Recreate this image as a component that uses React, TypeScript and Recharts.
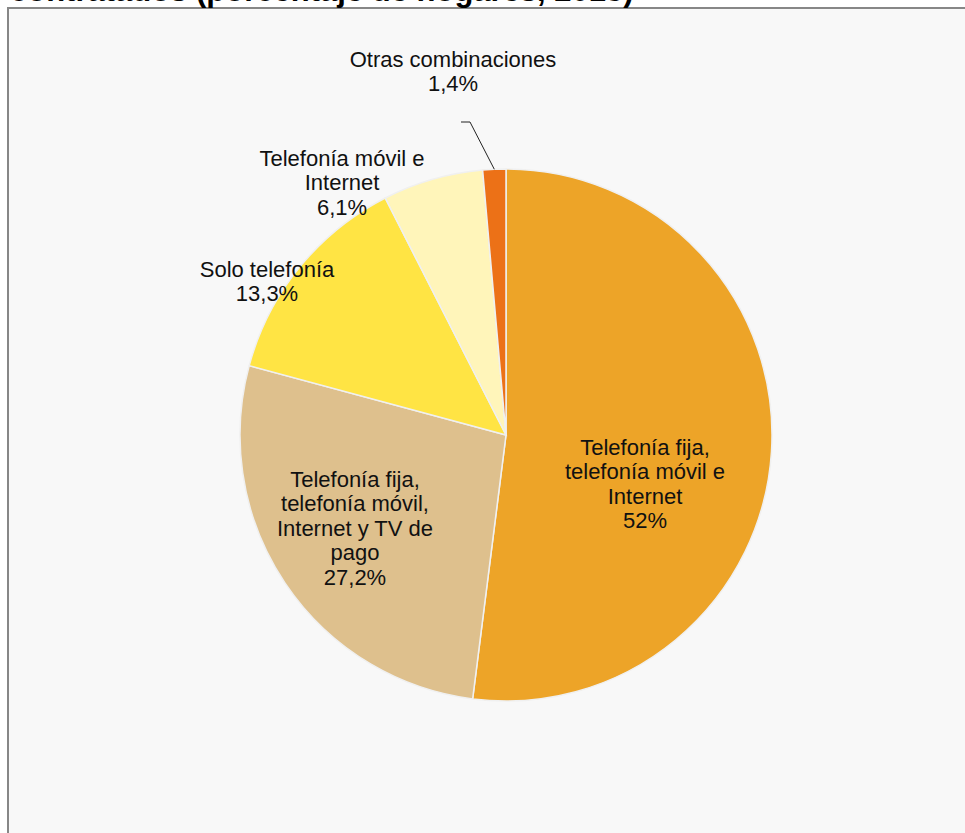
import { PieChart, Pie, Cell } from 'recharts'

const CATEGORY_LINES = [
  ['Telefonía fija,', 'telefonía móvil e', 'Internet'],
  ['Telefonía fija,', 'telefonía móvil,', 'Internet y TV de', 'pago'],
  ['Solo telefonía'],
  ['Telefonía móvil e', 'Internet'],
  ['Otras combinaciones'],
]
const SHARES = [52, 27.2, 13.3, 6.1, 1.4]
const SHARE_TEXT = ['52%', '27,2%', '13,3%', '6,1%', '1,4%']

const COLORS = ['#EDA428', '#DEC08D', '#FFE444', '#FFF5BA', '#EC7117']

// label block placement relative to the pie centre: dx = text centre, dy = first baseline
const LABEL_OFFSETS = [
  { dx: 139, dy: 20 },
  { dx: -151, dy: 52 },
  { dx: -239, dy: -158 },
  { dx: -164, dy: -269 },
  { dx: -53, dy: -368 },
]
const LEADER_INDEX = 4
const LEADER_KNEE = { dx: -36, dy: -313 }

const FONT = '"Liberation Sans", Arial, sans-serif'
const LINE_H = 24.4
const RAD = Math.PI / 180

const data = CATEGORY_LINES.map((lines, i) => ({ name: lines.join(' '), value: SHARES[i] }))

const renderLabel = (props: any) => {
  const { cx, cy, midAngle, outerRadius, index } = props
  const off = LABEL_OFFSETS[index]
  const x = cx + off.dx
  const y0 = cy + off.dy
  const lines = [...CATEGORY_LINES[index], SHARE_TEXT[index]]
  let leader = null
  if (index === LEADER_INDEX) {
    const ex = cx + outerRadius * Math.cos(-midAngle * RAD)
    const ey = cy + outerRadius * Math.sin(-midAngle * RAD)
    const kx = cx + LEADER_KNEE.dx
    const ky = cy + LEADER_KNEE.dy
    leader = (
      <polyline
        points={`${ex},${ey} ${kx},${ky} ${kx - 9},${ky}`}
        fill="none"
        stroke="#222"
        strokeWidth={1}
      />
    )
  }
  return (
    <g key={`label-${index}`}>
      {leader}
      <text x={x} y={y0} textAnchor="middle" fontSize={22} fill="#111" fontFamily={FONT}>
        {lines.map((l, i) => (
          <tspan key={i} x={x} y={y0 + i * LINE_H}>
            {l}
          </tspan>
        ))}
      </text>
    </g>
  )
}

export default function App() {
  return (
    <div
      style={{
        position: 'absolute',
        left: 0,
        top: 0,
        width: 965,
        height: 833,
        background: '#fff',
        overflow: 'hidden',
        fontFamily: FONT,
      }}
    >
      <div
        style={{
          position: 'absolute',
          left: 7,
          top: 7,
          width: 990,
          height: 860,
          background: '#F8F8F8',
          borderLeft: '2px solid #878787',
          borderTop: '2px solid #878787',
        }}
      />
      <div
        style={{
          position: 'absolute',
          left: 10,
          top: -25,
          fontSize: 31,
          fontWeight: 'bold',
          lineHeight: '31px',
          whiteSpace: 'nowrap',
          color: '#000',
        }}
      >
        contratados (porcentaje de hogares, 2015)
      </div>
      <div style={{ position: 'absolute', left: 0, top: 0 }}>
        <PieChart width={965} height={833} margin={{ top: 0, right: 0, bottom: 0, left: 0 }}>
          <Pie
            data={data}
            dataKey="value"
            nameKey="name"
            cx={506}
            cy={435}
            outerRadius={266}
            startAngle={90}
            endAngle={-270}
            stroke="#F0F0F0"
            strokeWidth={1.5}
            label={renderLabel}
            labelLine={false}
            isAnimationActive={false}
          >
            {data.map((entry, index) => (
              <Cell key={`cell-${index}`} fill={COLORS[index % COLORS.length]} />
            ))}
          </Pie>
        </PieChart>
      </div>
    </div>
  )
}
